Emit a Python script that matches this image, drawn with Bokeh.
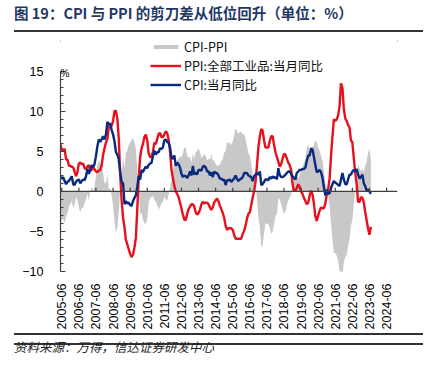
import math
import pandas as pd
from bokeh.plotting import figure
from bokeh.layouts import column
from bokeh.models import (Range1d, FixedTicker, SingleIntervalTicker, DatetimeTickFormatter,
                          Span, Legend, LegendItem, Label, Div)
from bokeh.embed import file_html
from bokeh.resources import INLINE

# ---------------- data ----------------
start_month = "2005-05-01"

ppi = [
    5.9, 5.2, 5.2, 5.3, 4.0, 4.0, 3.2, 3.2,
    3.1, 3.0, 2.5, 1.9, 2.4, 3.5, 3.6, 3.4, 3.5, 2.9, 2.8, 3.1,
    3.3, 2.6, 2.7, 2.9, 2.8, 2.5, 2.4, 2.6, 2.7, 3.2, 4.6, 5.4,
    6.1, 6.6, 8.0, 8.1, 8.2, 8.8, 10.0, 10.1, 9.1, 6.6, 2.0, -1.1,
    -3.3, -4.5, -6.0, -6.6, -7.2, -7.8, -8.2, -7.9, -7.0, -5.8, -2.1, 1.7,
    4.3, 5.4, 5.9, 6.8, 7.1, 6.4, 4.8, 4.3, 4.3, 5.0, 6.1, 5.9,
    6.6, 7.2, 7.3, 6.8, 6.8, 7.1, 7.5, 7.3, 6.5, 5.0, 2.7, 1.7,
    0.7, 0.0, -0.3, -0.7, -1.4, -2.1, -2.9, -3.5, -3.6, -2.8, -2.2, -1.9,
    -1.6, -1.6, -1.9, -2.6, -2.9, -2.7, -2.3, -1.6, -1.3, -1.5, -1.4, -1.4,
    -1.6, -2.0, -2.3, -2.0, -1.4, -1.1, -0.9, -1.2, -1.8, -2.2, -2.7, -3.3,
    -4.3, -4.8, -4.6, -4.6, -4.6, -4.8, -5.4, -5.9, -5.9, -5.9, -5.9, -5.9,
    -5.3, -4.9, -4.3, -3.4, -2.8, -2.6, -1.7, -0.8, 0.1, 1.2, 3.3, 5.5,
    6.9, 7.8, 7.6, 6.4, 5.5, 5.5, 5.5, 6.3, 6.9, 6.9, 5.8, 4.9,
    4.3, 3.7, 3.1, 3.4, 4.1, 4.7, 4.6, 4.1, 3.6, 3.3, 2.7, 0.9,
    0.1, 0.1, 0.4, 0.9, 0.6, 0.0, -0.3, -0.8, -1.2, -1.6, -1.4, -0.5,
    0.1, -0.4, -1.5, -3.1, -3.7, -3.0, -2.4, -2.0, -2.1, -2.1, -1.5, -0.4,
    0.3, 1.7, 4.4, 6.8, 9.0, 8.8, 9.0, 9.5, 10.7, 13.5, 12.9, 10.3,
    9.1, 8.8, 8.3, 8.0, 6.4, 6.1, 4.2, 2.3, 0.9, -1.3, -1.3, -0.7,
    -0.8, -1.4, -2.5, -3.6, -4.6, -5.4, -4.4,
]

cpi = [
    1.8, 1.6, 1.8, 1.3, 0.9, 1.2, 1.3, 1.6,
    1.9, 0.9, 0.8, 1.2, 1.4, 1.5, 1.0, 1.3, 1.5, 1.4, 1.9, 2.8,
    2.2, 2.7, 3.3, 3.0, 3.4, 4.4, 5.6, 6.5, 6.2, 6.5, 6.9, 6.5,
    7.1, 8.7, 8.3, 8.5, 7.7, 7.1, 6.3, 4.9, 4.6, 4.0, 2.4, 1.2,
    1.0, -1.6, -1.2, -1.5, -1.4, -1.7, -1.8, -1.2, -0.8, -0.5, 0.6, 1.9,
    1.5, 2.7, 2.4, 2.8, 3.1, 2.9, 3.3, 3.5, 3.6, 4.4, 5.1, 4.6,
    4.9, 4.9, 5.4, 5.3, 5.5, 6.4, 6.5, 6.2, 6.1, 5.5, 4.2, 4.1,
    4.5, 3.2, 3.6, 3.4, 3.0, 2.2, 1.8, 2.0, 1.9, 1.7, 2.0, 2.5,
    2.0, 3.2, 2.1, 2.4, 2.1, 2.7, 2.7, 2.6, 3.1, 3.2, 3.0, 2.5,
    2.5, 2.0, 2.4, 1.8, 2.5, 2.3, 2.3, 2.0, 1.6, 1.6, 1.4, 1.5,
    0.8, 1.4, 1.4, 1.5, 1.2, 1.4, 1.6, 2.0, 1.6, 1.3, 1.5, 1.6,
    1.8, 2.3, 2.3, 2.3, 2.0, 1.9, 1.8, 1.3, 1.9, 2.1, 2.3, 2.1,
    2.5, 0.8, 0.9, 1.2, 1.5, 1.5, 1.4, 1.8, 1.6, 1.9, 1.7, 1.8,
    1.5, 2.9, 2.1, 1.8, 1.8, 1.9, 2.1, 2.3, 2.5, 2.5, 2.2, 1.9,
    1.7, 1.5, 2.3, 2.5, 2.7, 2.7, 2.8, 2.8, 3.0, 3.8, 4.5, 4.5,
    5.4, 5.2, 4.3, 3.3, 2.4, 2.5, 2.7, 2.4, 1.7, 0.5, -0.5, 0.2,
    -0.3, -0.2, 0.4, 0.9, 1.3, 1.1, 1.0, 0.8, 0.7, 1.5, 2.3, 1.5,
    0.9, 0.9, 1.5, 2.1, 2.1, 2.5, 2.7, 2.5, 2.8, 2.1, 1.6, 1.8,
    2.1, 1.0, 0.7, 0.1, 0.2, 0.0, -0.3,
]

tick_labels = ["2005-06", "2006-06", "2007-06", "2008-06", "2009-06", "2010-06",
               "2011-06", "2012-06", "2013-06", "2014-06", "2015-06", "2016-06",
               "2017-06", "2018-06", "2019-06", "2020-06", "2021-06", "2022-06",
               "2023-06", "2024-06"]

series_names = ["CPI-PPI", "PPI:全部工业品:当月同比", "CPI:当月同比"]
title_text = "图 19：CPI 与 PPI 的剪刀差从低位回升（单位：%）"
source_text = "资料来源：万得，信达证券研发中心"

# ---------------- derived ----------------
dates = pd.date_range(start_month, periods=len(ppi), freq="MS")
spread = [c - q for c, q in zip(cpi, ppi)]
tick_ms = [pd.Timestamp(t + "-01").timestamp() * 1000 for t in tick_labels]

RED = "#e8101c"
BLUE = "#0a2a80"
GRAY = "#c8c8c8"
AXC = "#404040"
RULE = "#333333"
FONT = "Liberation Sans"
CJK = "Noto Sans CJK SC"

x_start = pd.Timestamp("2005-05-05")
x_end = pd.Timestamp("2025-01-20")

FIG_H = 301
B_TOP, B_BOTTOM = 2, 62
y_top = -10 + 234.5 / 7.92

title_div = Div(
    text=(f'<div style="font-family:\'{CJK}\';font-weight:bold;height:30px;'
          f'font-size:14.5px;line-height:26px;color:#1f3864;white-space:nowrap">{title_text}</div>'),
    width=409, height=30, margin=(0, 10, 0, 14))
rule_top = Div(text=f'<div style="width:409px;height:2px;background-color:{RULE}"></div>',
               width=409, height=2, margin=(0, 10, 0, 14), background=RULE,
               styles={"background-color": RULE})

p = figure(width=433, height=FIG_H, output_backend="svg", toolbar_location=None,
           x_axis_type="datetime",
           x_range=Range1d(x_start, x_end), y_range=Range1d(-10, y_top),
           min_border_left=60, min_border_right=36, min_border_top=B_TOP,
           min_border_bottom=B_BOTTOM, margin=0)
p.outline_line_color = None
p.grid.visible = False
p.background_fill_color = "white"
p.border_fill_color = "white"

area = p.varea(x=dates, y1=0, y2=spread, fill_color=GRAY)
r_ppi = p.line(dates, ppi, line_color=RED, line_width=2.4)
r_cpi = p.line(dates, cpi, line_color=BLUE, line_width=2.4)

# zero line with upward ticks
p.add_layout(Span(location=0, dimension="width", line_color=AXC, line_width=1.3))
tick_dates = [pd.Timestamp(t + "-01") for t in tick_labels]
p.segment(x0=tick_dates, y0=[0] * len(tick_dates), x1=tick_dates, y1=[0.45] * len(tick_dates),
          line_color=AXC, line_width=1.2)

# y axis
ya = p.yaxis[0]
ya.ticker = SingleIntervalTicker(interval=5, num_minor_ticks=5)
ya.bounds = (-10, 15)
ya.axis_line_color = AXC
ya.axis_line_width = 1.2
ya.major_tick_in = 5
ya.major_tick_out = 0
ya.minor_tick_in = 3
ya.minor_tick_out = 0
ya.major_tick_line_color = AXC
ya.minor_tick_line_color = AXC
ya.major_label_standoff = 17
ya.major_label_text_font = FONT
ya.major_label_text_font_size = "12.5px"
ya.major_label_text_color = "black"

# x axis (labels only, at bottom)
xa = p.xaxis[0]
xa.ticker = FixedTicker(ticks=tick_ms)
xa.formatter = DatetimeTickFormatter(days="%Y-%m", months="%Y-%m", years="%Y-%m")
xa.axis_line_color = None
xa.major_tick_line_color = None
xa.minor_tick_line_color = None
xa.major_label_orientation = math.pi / 2
xa.major_label_standoff = 6
xa.major_label_text_font = FONT
xa.major_label_text_font_size = "12.5px"
xa.major_label_text_color = "black"

# "%" unit marker
p.add_layout(Label(x=x_start.timestamp() * 1000, y=15, text="%", x_offset=0, y_offset=-2,
                   text_baseline="middle", text_font=FONT, text_font_size="10px",
                   text_color="black"))

# legend (inside the extended frame, above the axis top)
legend = Legend(items=[LegendItem(label=series_names[0], renderers=[area]),
                       LegendItem(label=series_names[1], renderers=[r_ppi]),
                       LegendItem(label=series_names[2], renderers=[r_cpi])],
                location=(90, 177), orientation="vertical",
                glyph_width=31, glyph_height=5, label_height=14, spacing=-8,
                padding=2, margin=0, label_standoff=3,
                label_text_font=CJK, label_text_font_size="12.5px", label_text_color="#111111",
                background_fill_alpha=0, border_line_color=None)
p.add_layout(legend)

rule_bottom = Div(text=f'<div style="width:409px;height:2px;background-color:{RULE}"></div>',
                  width=409, height=2, margin=(0, 10, 0, 14), background=RULE,
                  styles={"background-color": RULE})
source_div = Div(
    text=(f'<div style="padding-top:4px;font-family:\'{CJK}\';font-style:italic;font-size:12.5px;'
          f'line-height:16px;color:#222;white-space:nowrap">{source_text}</div>'),
    width=409, height=31, margin=(0, 10, 0, 14))

layout = column(title_div, rule_top, p, rule_bottom, source_div, spacing=0)
open("out.html", "w").write(file_html(layout, INLINE))
